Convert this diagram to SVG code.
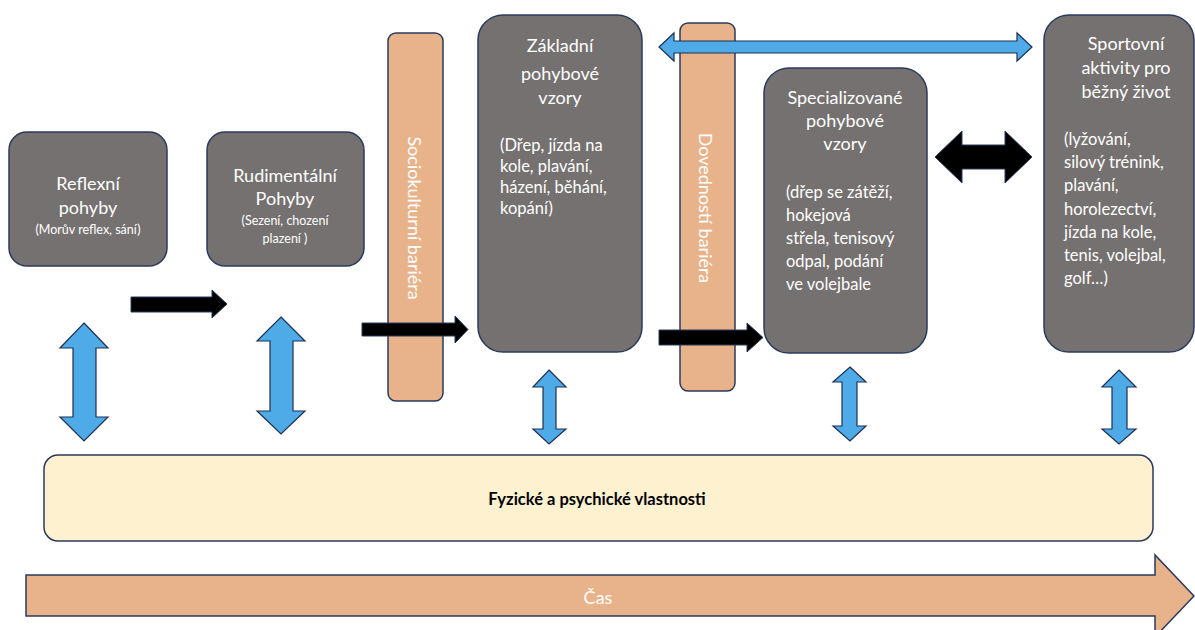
<svg xmlns="http://www.w3.org/2000/svg" width="1195" height="630" viewBox="0 0 1195 630">
<style>
text { font-family: Lato, "Liberation Sans", sans-serif; dominant-baseline: central; }
.box { fill: #757170; stroke: #2b3a5c; stroke-width: 1.5; }
.bar { fill: #e8b38a; stroke: #2b3a5c; stroke-width: 1.5; }
.yel { fill: #fdf1d0; stroke: #2b3a5c; stroke-width: 1.5; }
.blk { fill: #000; stroke: #2b3a5c; stroke-width: 1; }
.blu { fill: #4faae8; stroke: #1f3050; stroke-width: 1.2; }
.t { fill: #fff; font-size: 18px; text-anchor: middle; }
.s { fill: #fff; font-size: 12.5px; text-anchor: middle; }
.c { fill: #fff; font-size: 16.5px; }
.bt { fill: #fff; font-size: 18px; text-anchor: middle; }
</style>
<rect width="1195" height="630" fill="#fff"/>

<g id="socio-bariera">
<rect class="bar" x="388" y="33" width="55" height="368" rx="8"/>
<text class="bt" transform="translate(415,218) rotate(90)">Sociokulturní bariéra</text>
</g>
<g id="dovednosti-bariera">
<rect class="bar" x="680" y="23" width="55" height="368" rx="8"/>
<text class="bt" transform="translate(706,208) rotate(90)">Dovedností bariéra</text>
</g>
<g id="vlastnosti">
<rect class="yel" x="44" y="455" width="1109" height="86" rx="14"/>
<text x="597" y="499" style="font-size:16.5px;font-weight:bold;text-anchor:middle;fill:#000">Fyzické a psychické vlastnosti</text>
</g>
<g id="cas">
<polygon class="bar" points="26,575 1155,575 1155,555 1194,596 1155,637 1155,616 26,616"/>
<text x="598" y="597" style="font-size:18px;fill:#fff;text-anchor:middle">Čas</text>
</g>

<g id="connectors">
<polygon class="blk" points="131,297 212,297 212,290 227,304 212,318 212,312 131,312"/>
<polygon class="blk" points="362,323 455,323 455,316 468,329.5 455,343 455,336 362,336"/>
<polygon class="blk" points="659,330 747,330 747,323 763,337.5 747,352 747,345 659,345"/>
<polygon class="blk" points="935,157 962,131 962,145 1005,145 1005,131 1032,157 1005,183 1005,169 962,169 962,183"/>
<polygon class="blu" points="659,47 674,33 674,41 1017,41 1017,33 1032,47 1017,61 1017,53 674,53 674,61"/>
<polygon class="blu" points="84,323 108,348 96,348 96,417 108,417 84,441 60,417 73,417 73,348 60,348"/>
<polygon class="blu" points="281,317 305,341 293,341 293,411 305,411 281,434 257,411 270,411 270,341 257,341"/>
<polygon class="blu" points="549,370 566,387 556,387 556,429 566,429 549,444 533,429 543,429 543,387 533,387"/>
<polygon class="blu" points="850,367 866,382 857,382 857,426 866,426 850,441 833,426 842,426 842,382 833,382"/>
<polygon class="blu" points="1119,370 1136,387 1127,387 1127,429 1136,429 1119,444 1102,429 1112,429 1112,387 1102,387"/>
</g>

<g id="reflexni">
<rect class="box" x="9" y="132" width="158" height="134" rx="18"/>
<text class="t" x="88" y="183">Reflexní</text>
<text class="t" x="88" y="207">pohyby</text>
<text class="s" x="88" y="229">(Morův reflex, sání)</text>
</g>
<g id="rudimentalni">
<rect class="box" x="207" y="132" width="157" height="134" rx="18"/>
<text class="t" x="285" y="175">Rudimentální</text>
<text class="t" x="285" y="198">Pohyby</text>
<text class="s" x="285" y="220">(Sezení, chození</text>
<text class="s" x="285" y="238">plazení )</text>
</g>
<g id="zakladni">
<rect class="box" x="478" y="15" width="164" height="337" rx="25"/>
<text class="t" x="560" y="45">Základní</text>
<text class="t" x="560" y="73">pohybové</text>
<text class="t" x="560" y="97">vzory</text>
<text class="c" x="500" y="145">(Dřep, jízda na</text>
<text class="c" x="500" y="166">kole, plavání,</text>
<text class="c" x="500" y="187">házení, běhání,</text>
<text class="c" x="500" y="208">kopání)</text>
</g>
<g id="specializovane">
<rect class="box" x="764" y="68" width="163" height="285" rx="25"/>
<text class="t" x="845" y="97">Specializované</text>
<text class="t" x="845" y="120">pohybové</text>
<text class="t" x="845" y="143">vzory</text>
<text class="c" x="786" y="192">(dřep se zátěží,</text>
<text class="c" x="786" y="215">hokejová</text>
<text class="c" x="786" y="238">střela, tenisový</text>
<text class="c" x="786" y="261">odpal, podání</text>
<text class="c" x="786" y="284">ve volejbale</text>
</g>
<g id="sportovni">
<rect class="box" x="1044" y="15" width="150" height="337" rx="25"/>
<text class="t" x="1126" y="43">Sportovní</text>
<text class="t" x="1126" y="67">aktivity pro</text>
<text class="t" x="1126" y="91">běžný život</text>
<text class="c" x="1064" y="139">(lyžování,</text>
<text class="c" x="1064" y="162">silový trénink,</text>
<text class="c" x="1064" y="185">plavání,</text>
<text class="c" x="1064" y="209">horolezectví,</text>
<text class="c" x="1064" y="232">jízda na kole,</text>
<text class="c" x="1064" y="255">tenis, volejbal,</text>
<text class="c" x="1064" y="278">golf…)</text>
</g>
</svg>
